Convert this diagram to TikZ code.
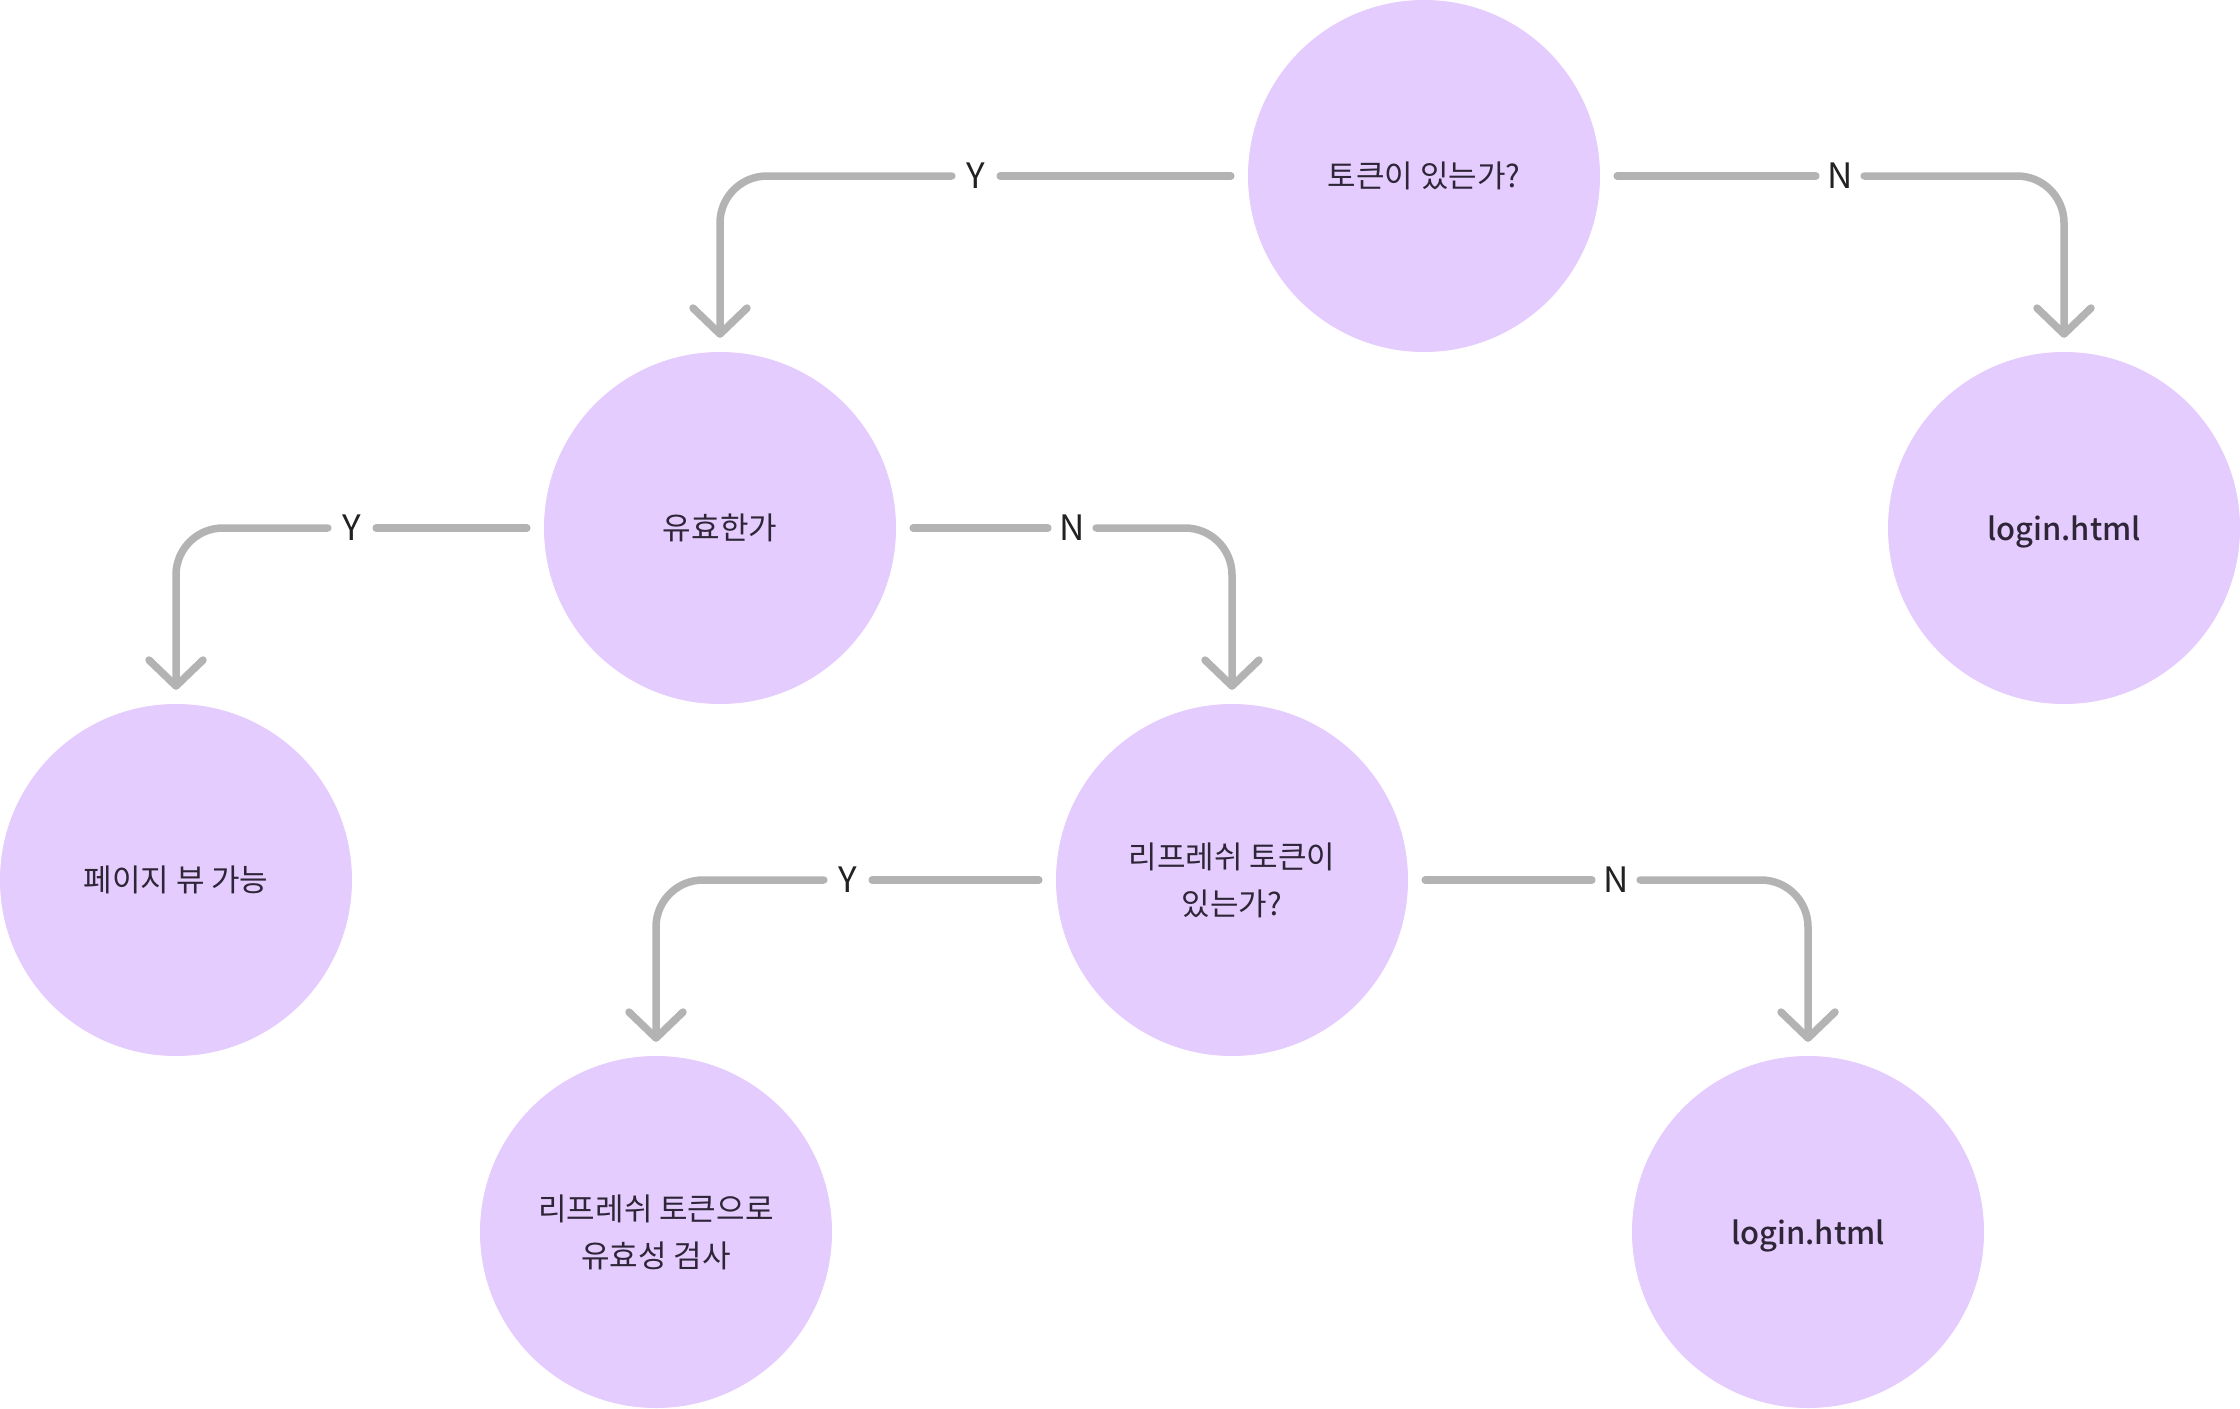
\documentclass[tikz,border=0pt]{standalone}
\usepackage{fontspec}
\setmainfont{Noto Sans CJK KR}
\IfFontExistsTF{Noto Sans CJK KR Medium}
  {\newfontfamily\medfont{Noto Sans CJK KR Medium}}
  {\newfontfamily\medfont[FakeBold=0.5]{Noto Sans CJK KR}}
\usetikzlibrary{arrows.meta}
\definecolor{circ}{HTML}{E4CCFE}
\definecolor{conn}{HTML}{B3B3B3}
\definecolor{txt}{HTML}{2E2537}
\definecolor{labc}{HTML}{222222}
\newcommand{\loginlabel}{\raisebox{-12pt}[0pt][0pt]{\medfont login.html}}
\begin{document}
\begin{tikzpicture}[x=1pt,y=-1pt,
  bubble/.style={circle,fill=circ,minimum size=352pt,inner sep=0pt,text=txt,align=center,font=\fontsize{31pt}{47pt}\selectfont},
  yn/.style={inner sep=0pt,minimum width=48pt,minimum height=30pt,text=labc,font=\fontsize{35pt}{40pt}\selectfont},
  link/.style={draw=conn,line width=7.5pt,line cap=round},
  branch/.style={link,rounded corners=47pt,line join=round,shorten >=14pt,-{Straight Barb[length=26pt,width=54pt,round]}},
]
\fill[white] (0,0) rectangle (2240,1408);
\useasboundingbox (0,0) rectangle (2240,1408);

\node[bubble] (q1) at (1424,176) {토큰이 있는가?};
\node[bubble] (valid) at (720,528) {유효한가};
\node[bubble] (login1) at (2064,528) {\loginlabel};
\node[bubble] (view) at (176,880) {페이지 뷰 가능};
\node[bubble] (q2) at (1232,880) {리프레쉬 토큰이\\있는가?};
\node[bubble] (check) at (656,1232) {리프레쉬 토큰으로\\유효성 검사};
\node[bubble] (login2) at (1808,1232) {\loginlabel};

\node[yn] (y1) at (976,176) {Y};
\node[yn] (n1) at (1840,176) {N};
\node[yn] (y2) at (352,528) {Y};
\node[yn] (n2) at (1072,528) {N};
\node[yn] (y3) at (848,880) {Y};
\node[yn] (n3) at (1616,880) {N};

\draw[link,shorten <=17pt] (q1.west) -- (y1.east);
\draw[branch] (y1.west) -| (valid.north);
\draw[link,shorten <=17pt] (q1.east) -- (n1.west);
\draw[branch] (n1.east) -| (login1.north);

\draw[link,shorten <=17pt] (valid.west) -- (y2.east);
\draw[branch] (y2.west) -| (view.north);
\draw[link,shorten <=17pt] (valid.east) -- (n2.west);
\draw[branch] (n2.east) -| (q2.north);

\draw[link,shorten <=17pt] (q2.west) -- (y3.east);
\draw[branch] (y3.west) -| (check.north);
\draw[link,shorten <=17pt] (q2.east) -- (n3.west);
\draw[branch] (n3.east) -| (login2.north);
\end{tikzpicture}
\end{document}
